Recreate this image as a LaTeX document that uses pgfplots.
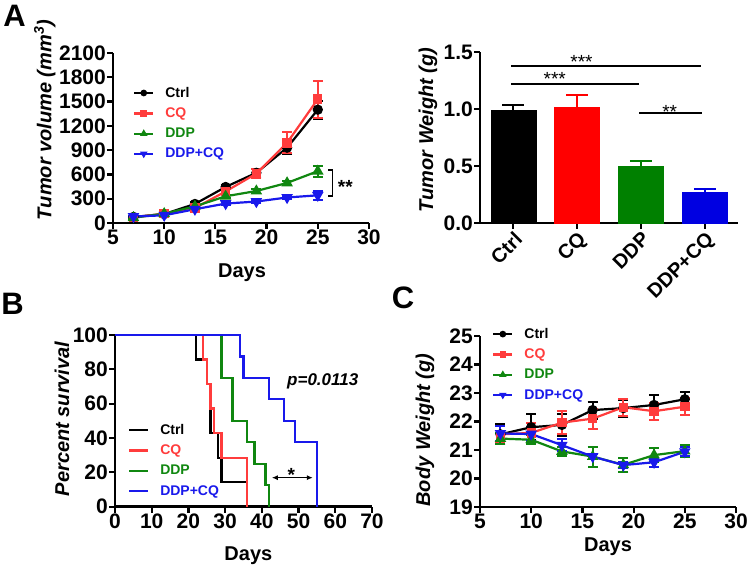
\documentclass[border=0pt]{standalone}
\usepackage{fontspec}
\setmainfont{Liberation Sans}
\usepackage{pgfplots}
\pgfplotsset{compat=1.18}
\usetikzlibrary{arrows.meta}

\definecolor{lred}{RGB}{255,60,60}
\definecolor{lgreen}{RGB}{16,135,16}
\definecolor{lblue}{RGB}{25,25,235}
\definecolor{bred}{RGB}{255,0,0}
\definecolor{bgreen}{RGB}{0,128,0}
\definecolor{bblue}{RGB}{0,0,225}

\pgfplotsset{
  prism/.style={
    scale only axis, clip=false,
    axis lines=left,
    axis line style={line width=2.6pt,-},
    tick style={line width=2.2pt,black},
    tick align=outside, major tick length=6pt,
    minor tick num=0,
    /pgf/number format/assume math mode=true,
    tick label style={font=\fontsize{21}{24}\selectfont\bfseries, inner sep=1pt},
    label style={font=\fontsize{20}{24}\selectfont\bfseries},
    legend cell align=left,
    legend style={draw=none, fill=none, inner sep=0pt, row sep=5pt,
      font=\fontsize{14}{16}\selectfont\bfseries,
      /tikz/every odd column/.append style={column sep=9pt}},
  },
  mline/.style={line width=2.2pt, mark size=4pt, mark options={solid},
    error bars/y dir=both, error bars/y explicit,
    error bars/error bar style={line width=2pt},
    error bars/error mark options={line width=2pt, mark size=5pt, rotate=90}},
  mleg/.style={legend image code/.code={
    \draw[mark repeat=2,mark phase=2,##1, mark size=2.2pt] plot coordinates {(0pt,0pt)(9.5pt,0pt)(19pt,0pt)};}},
}

\begin{document}
\begin{tikzpicture}[x=1pt,y=1pt]

% ---- A: tumor volume
\begin{scope}[shift={(113pt,346pt)}]
\begin{axis}[prism, mleg, anchor=south west,
  width=256pt, height=170pt,
  xmin=5, xmax=30, ymin=0, ymax=2100,
  xtick={5,10,...,30}, ytick={0,300,...,2100},
  yticklabel style={/pgf/number format/1000 sep={}},
  xlabel={Days},
  xlabel style={at={(axis description cs:0.504,-0.318)}, anchor=base},
  ylabel={\itshape Tumor volume (mm\textsuperscript{3})},
  ylabel style={at={(axis description cs:-0.266,0.606)}, anchor=center, rotate=0},
  legend style={at={(0.078,0.812)}, anchor=north west},
]
\addplot[black, mline, mark=*] coordinates {
  (7,75) +- (0,10) (10,110) +- (0,15) (13,235) +- (0,20) (16,445) +- (0,30)
  (19,620) +- (0,50) (22,930) +- (0,80) (25,1400) +- (0,110)};
\addlegendentry{Ctrl}
\addplot[lred, mline, mark=square*, mark size=3.6pt] coordinates {
  (7,70) +- (0,10) (10,115) +- (0,15) (13,185) +- (0,20) (16,390) +- (0,40)
  (19,610) +- (0,60) (22,990) +- (0,130) (25,1530) +- (0,230)};
\addlegendentry{\textcolor{lred}{CQ}}
\addplot[lgreen, mline, mark=triangle*, mark size=4.5pt] coordinates {
  (7,65) +- (0,10) (10,115) +- (0,10) (13,205) +- (0,15) (16,330) +- (0,20)
  (19,395) +- (0,20) (22,495) +- (0,25) (25,640) +- (0,70)};
\addlegendentry{\textcolor{lgreen}{DDP}}
\addplot[lblue, mline, mark=triangle*, mark size=4.5pt, mark options={rotate=180}] coordinates {
  (7,80) +- (0,10) (10,95) +- (0,10) (13,170) +- (0,15) (16,240) +- (0,15)
  (19,265) +- (0,15) (22,315) +- (0,20) (25,342) +- (0,55)};
\addlegendentry{\textcolor{lblue}{DDP+CQ}}
\draw[line width=1.6pt] (axis cs:26.03,655) -- (axis cs:26.45,655) -- (axis cs:26.45,337) -- (axis cs:26.03,337);
\node[anchor=base west, inner sep=0pt, font=\fontsize{19}{20}\selectfont\bfseries] at (axis cs:26.95,362) {**};
\end{axis}
\end{scope}

% ---- A: tumor weight
\begin{scope}[shift={(480pt,346pt)}]
\begin{axis}[prism, anchor=south west,
  width=258pt, height=171pt,
  xmin=-0.52, xmax=3.52, ymin=0, ymax=1.5,
  xtick={0,1,2,3}, xticklabels={Ctrl,CQ,DDP,DDP+CQ},
  xticklabel style={rotate=45, anchor=north east, font=\fontsize{20}{24}\selectfont\bfseries},
  ytick={0,0.5,1,1.5},
  yticklabel style={/pgf/number format/.cd, fixed, fixed zerofill, precision=1},
  ylabel={\itshape Tumor Weight (g)},
  ylabel style={at={(axis description cs:-0.2016,0.544)}, anchor=center, rotate=0},
]
\addplot[ybar, bar width=45pt, fill=black, draw=black, error bars/.cd, y dir=plus, y explicit,
  error bar style={black, line width=2pt}, error mark options={black, line width=2pt, mark size=11pt, rotate=90}]
  coordinates {(0,0.988) +- (0,0.05)};
\addplot[ybar, bar width=45pt, fill=bred, draw=bred, error bars/.cd, y dir=plus, y explicit,
  error bar style={bred, line width=2pt}, error mark options={bred, line width=2pt, mark size=11pt, rotate=90}]
  coordinates {(1,1.015) +- (0,0.112)};
\addplot[ybar, bar width=45pt, fill=bgreen, draw=bgreen, error bars/.cd, y dir=plus, y explicit,
  error bar style={bgreen, line width=2pt}, error mark options={bgreen, line width=2pt, mark size=11pt, rotate=90}]
  coordinates {(2,0.50) +- (0,0.042)};
\addplot[ybar, bar width=45pt, fill=bblue, draw=bblue, error bars/.cd, y dir=plus, y explicit,
  error bar style={bblue, line width=2pt}, error mark options={bblue, line width=2pt, mark size=11pt, rotate=90}]
  coordinates {(3,0.266) +- (0,0.036)};
\draw[line width=2pt] (axis cs:-0.03,1.379) -- (axis cs:2.94,1.379);
\draw[line width=2pt] (axis cs:-0.03,1.219) -- (axis cs:1.97,1.219);
\draw[line width=2pt] (axis cs:1.97,0.962) -- (axis cs:2.96,0.962);
\node[anchor=base, inner sep=0pt, font=\fontsize{19}{20}\selectfont] at (axis cs:1.07,1.352) {***};
\node[anchor=base, inner sep=0pt, font=\fontsize{19}{20}\selectfont] at (axis cs:0.65,1.206) {***};
\node[anchor=base, inner sep=0pt, font=\fontsize{19}{20}\selectfont] at (axis cs:2.45,0.919) {**};
\end{axis}
\end{scope}

% ---- B: survival
\begin{scope}[shift={(115pt,62.3pt)}]
\begin{axis}[prism, anchor=south west,
  width=257pt, height=171.7pt,
  xmin=0, xmax=70, ymin=0, ymax=100,
  xtick={0,10,...,70}, ytick={0,20,...,100},
  xlabel={Days},
  xlabel style={at={(axis description cs:0.519,-0.316)}, anchor=base},
  ylabel={\itshape Percent survival},
  ylabel style={at={(axis description cs:-0.206,0.511)}, anchor=center, rotate=0},
  legend style={at={(0.05,0.493)}, anchor=north west},
  legend image code/.code={\draw[#1] (0pt,0pt) -- (19pt,0pt);},
]
\addplot[black, line width=2.2pt, const plot] coordinates {
  (0,100) (22,85.71) (25,71.43) (26,42.86) (28,28.57) (29,14.29) (36,0)};
\addlegendentry{Ctrl}
\addplot[lred, line width=2.2pt, const plot] coordinates {
  (0,100) (24,85.71) (25,71.43) (26,57.14) (27,42.86) (29,28.57) (36,0)};
\addlegendentry{\textcolor{lred}{CQ}}
\addplot[lgreen, line width=2.2pt, const plot] coordinates {
  (0,100) (29,75) (32,50) (36,37.5) (38,25) (41,12.5) (42,0)};
\addlegendentry{\textcolor{lgreen}{DDP}}
\addplot[lblue, line width=2.2pt, const plot] coordinates {
  (0,100) (34,87.5) (35,75) (42,62.5) (46,50) (49,37.5) (55,0)};
\addlegendentry{\textcolor{lblue}{DDP+CQ}}
\node[anchor=base west, inner sep=0pt, font=\fontsize{17}{20}\selectfont\bfseries\itshape] at (axis cs:46.85,70.3) {p=0.0113};
\draw[{Latex[length=6pt,width=5pt]}-{Latex[length=6pt,width=5pt]}, line width=1.3pt] (axis cs:42.7,16.9) -- (axis cs:53.9,16.9);
\node[anchor=base, inner sep=0pt, font=\fontsize{19}{20}\selectfont\bfseries] at (axis cs:48,14.7) {*};
\end{axis}
\end{scope}

% ---- C: body weight
\begin{scope}[shift={(480pt,62pt)}]
\begin{axis}[prism, mleg, anchor=south west,
  width=256pt, height=171pt,
  xmin=5, xmax=30, ymin=19, ymax=25,
  xtick={5,10,...,30}, ytick={19,20,...,25},
  xlabel={Days},
  xlabel style={at={(axis description cs:0.5,-0.263)}, anchor=base},
  ylabel={\itshape Body Weight (g)},
  ylabel style={at={(axis description cs:-0.215,0.45)}, anchor=center, rotate=0},
  legend style={at={(0.047,1.058)}, anchor=north west},
]
\addplot[black, mline, mark=*] coordinates {
  (7,21.55) +- (0,0.35) (10,21.8) +- (0,0.45) (13,21.88) +- (0,0.4) (16,22.4) +- (0,0.3)
  (19,22.47) +- (0,0.3) (22,22.58) +- (0,0.35) (25,22.78) +- (0,0.25)};
\addlegendentry{Ctrl}
\addplot[lred, mline, mark=square*, mark size=3.6pt] coordinates {
  (7,21.55) +- (0,0.3) (10,21.6) +- (0,0.35) (13,21.96) +- (0,0.4) (16,22.1) +- (0,0.35)
  (19,22.5) +- (0,0.3) (22,22.36) +- (0,0.3) (25,22.52) +- (0,0.3)};
\addlegendentry{\textcolor{lred}{CQ}}
\addplot[lgreen, mline, mark=triangle*, mark size=4.5pt] coordinates {
  (7,21.4) +- (0,0.2) (10,21.36) +- (0,0.15) (13,20.95) +- (0,0.15) (16,20.77) +- (0,0.35)
  (19,20.48) +- (0,0.25) (22,20.82) +- (0,0.25) (25,20.96) +- (0,0.2)};
\addlegendentry{\textcolor{lgreen}{DDP}}
\addplot[lblue, mline, mark=triangle*, mark size=4.5pt, mark options={rotate=180}] coordinates {
  (7,21.58) +- (0,0.25) (10,21.56) +- (0,0.25) (13,21.17) +- (0,0.2) (16,20.77) +- (0,0.1)
  (19,20.47) +- (0,0.1) (22,20.57) +- (0,0.15) (25,20.94) +- (0,0.15)};
\addlegendentry{\textcolor{lblue}{DDP+CQ}}
\end{axis}
\end{scope}

\node[font=\fontsize{31}{31}\selectfont\bfseries] at (14.5,553) {A};
\node[font=\fontsize{31}{31}\selectfont\bfseries] at (12.5,265) {B};
\node[font=\fontsize{31}{31}\selectfont\bfseries] at (403,271) {C};
\pgfresetboundingbox
\path[use as bounding box] (0,0) rectangle (750,569);
\end{tikzpicture}
\end{document}
